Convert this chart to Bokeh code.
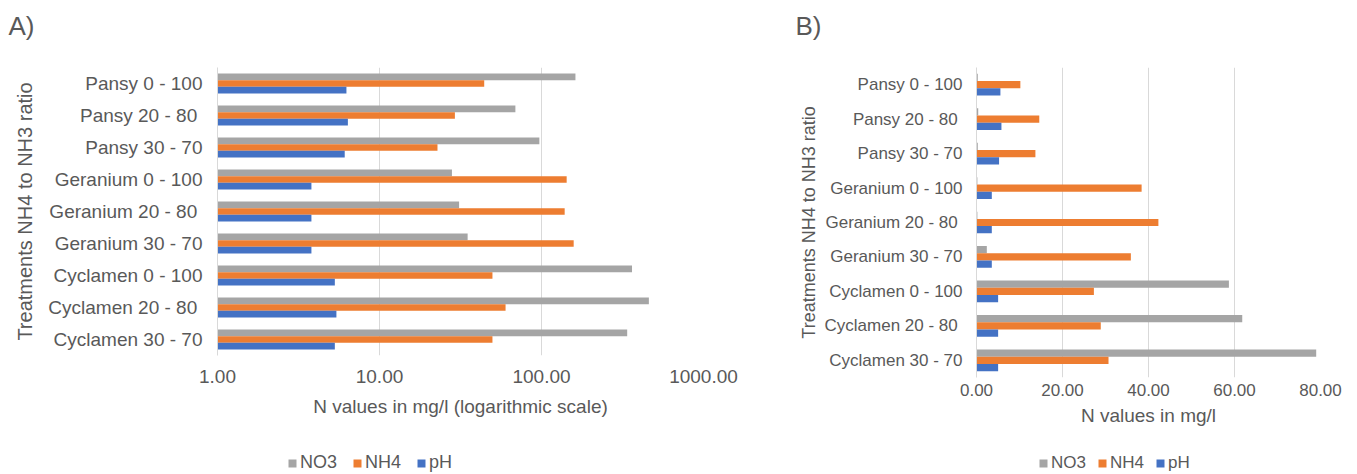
from bokeh.plotting import figure
from bokeh.models import (FactorRange, Range1d, FixedTicker, PrintfTickFormatter,
                          Legend, LegendItem, ColumnDataSource, Label)
from bokeh.transform import dodge
from bokeh.layouts import row, column
from bokeh.embed import file_html
from bokeh.resources import INLINE

# ---------------- data ----------------
categories = ["Pansy 0 - 100", "Pansy 20 - 80\u00a0", "Pansy 30 - 70",
              "Geranium 0 - 100", "Geranium 20 - 80\u00a0", "Geranium 30 - 70",
              "Cyclamen 0 - 100", "Cyclamen 20 - 80\u00a0", "Cyclamen 30 - 70"]
series_names = ["NO3", "NH4", "pH"]

a_no3 = [162, 69, 97, 28, 31, 35, 362, 460, 338]
a_nh4 = [44.3, 29.2, 22.8, 143, 139, 158, 49.8, 60.0, 49.8]
a_ph = [6.25, 6.38, 6.1, 3.8, 3.8, 3.8, 5.3, 5.42, 5.3]

b_no3 = [0.3, 0.4, 0.3, 0.2, 0.2, 2.4, 58.7, 61.8, 79.0]
b_nh4 = [10.2, 14.6, 13.7, 38.4, 42.3, 35.9, 27.3, 28.9, 30.7]
b_ph = [5.56, 5.8, 5.25, 3.56, 3.56, 3.56, 5.03, 5.03, 5.03]

a_ticks = [1, 10, 100, 1000]
b_ticks = [0, 20, 40, 60, 80]

a_xlabel = "N values in mg/l (logarithmic scale)"
b_xlabel = "N values in mg/l"
y_title = "Treatments NH4 to NH3 ratio"
panel_letters = ["A)", "B)"]

FONT = "Liberation Sans"
TXT = "#595959"
GRID = "#D9D9D9"
COLORS = ["#A5A5A5", "#ED7D31", "#4472C4"]
BAR_H = 0.21

TOTAL_W = 1356
TOP_H = 40
LEG_H = 24
MAIN_H = 474 - TOP_H - LEG_H


def bare(width, height):
    f = figure(width=width, height=height, x_range=Range1d(0, 1), y_range=Range1d(0, 1),
               min_border=0, x_axis_location=None, y_axis_location=None,
               output_backend="svg", toolbar_location=None)
    f.grid.visible = False
    f.outline_line_color = None
    f.background_fill_color = "white"
    f.border_fill_color = "white"
    return f


def build(no3, nh4, ph, log, xr, ticks, xlabel, geo):
    src = ColumnDataSource(dict(cat=categories, no3=no3, nh4=nh4, ph=ph))
    kw = dict(x_axis_type="log") if log else {}
    p = figure(y_range=FactorRange(factors=list(reversed(categories))),
               x_range=Range1d(*xr),
               frame_width=geo["fw"], frame_height=geo["fh"],
               min_border_left=geo["bl"], min_border_right=geo["br"],
               min_border_top=geo["bt"], min_border_bottom=MAIN_H - geo["bt"] - geo["fh"],
               output_backend="svg", toolbar_location=None, **kw)
    p.outline_line_color = None
    p.background_fill_color = "white"
    p.border_fill_color = "white"
    base = xr[0]
    for key, off, col in zip(["no3", "nh4", "ph"], [BAR_H, 0.0, -BAR_H], COLORS):
        p.hbar(y=dodge("cat", off, range=p.y_range), left=base, right=key,
               height=BAR_H, source=src, fill_color=col, line_color=None)

    ticker = FixedTicker(ticks=ticks)
    p.xaxis.ticker = ticker
    p.xgrid.ticker = ticker
    p.xaxis.formatter = PrintfTickFormatter(format="%.2f")
    p.xgrid.grid_line_color = GRID
    p.ygrid.grid_line_color = None

    for ax in (p.xaxis, p.yaxis):
        ax.major_tick_line_color = None
        ax.minor_tick_line_color = None
        ax.major_tick_out = 0
        ax.major_tick_in = 0
        ax.minor_tick_out = 0
        ax.major_label_text_color = TXT
        ax.major_label_text_font = FONT
        ax.axis_label_text_color = TXT
        ax.axis_label_text_font = FONT
        ax.axis_label_text_font_style = "normal"
    p.xaxis.axis_line_color = None
    p.yaxis.axis_line_color = GRID

    p.xaxis.major_label_text_font_size = geo["xt_fs"]
    p.xaxis.major_label_standoff = geo["xt_so"]
    p.xaxis.axis_label = xlabel
    p.xaxis.axis_label_text_font_size = geo["xl_fs"]
    p.xaxis.axis_label_standoff = geo["xl_so"]

    p.yaxis.major_label_text_font_size = geo["yt_fs"]
    p.yaxis.major_label_standoff = geo["yt_so"]
    p.yaxis.axis_label = y_title
    p.yaxis.axis_label_text_font_size = geo["yl_fs"]
    p.yaxis.axis_label_standoff = geo["yl_so"]
    return p


geo_a = dict(fw=486, fh=288, bl=217, br=75, bt=67 - TOP_H,
             xt_fs="19px", xt_so=14, xl_fs="19px", xl_so=10,
             yt_fs="19px", yt_so=15, yl_fs="20px", yl_so=9)
geo_b = dict(fw=344, fh=310, bl=198, br=36, bt=58 - TOP_H,
             xt_fs="17px", xt_so=6, xl_fs="19px", xl_so=6,
             yt_fs="17px", yt_so=14, yl_fs="18px", yl_so=3)

pa = build(a_no3, a_nh4, a_ph, True, (1, 1000), a_ticks, a_xlabel, geo_a)
pb = build(b_no3, b_nh4, b_ph, False, (0, 80), b_ticks, b_xlabel, geo_b)

# ---- panel letters strip ----
top = bare(TOTAL_W, TOP_H)
for letter, lx in zip(panel_letters, [8, 795]):
    top.add_layout(Label(x=lx, y=TOP_H - 25, x_units="screen", y_units="screen",
                         text=letter, text_font=FONT, text_font_size="26px",
                         text_color=TXT, text_baseline="middle", text_align="left"))

# ---- legends strip (swatch renderers lie outside the visible range) ----
legf = bare(TOTAL_W, LEG_H)
swatches = [legf.hbar(y=[-5], left=[0], right=[0], height=0.5, fill_color=c, line_color=None)
            for c in COLORS]
for lx, fs, sp in [(287, "18px", 15), (1038, "17px", 11)]:
    items = [LegendItem(label=n, renderers=[r]) for n, r in zip(series_names, swatches)]
    legf.add_layout(Legend(items=items, orientation="horizontal", location=(lx, 1),
                           glyph_width=10, glyph_height=10, label_standoff=3,
                           spacing=sp, padding=0, margin=0,
                           border_line_color=None, background_fill_alpha=0,
                           label_text_font=FONT, label_text_font_size=fs,
                           label_text_color=TXT))

layout = column(top, row(pa, pb), legf)
open("out.html", "w").write(file_html(layout, INLINE))
